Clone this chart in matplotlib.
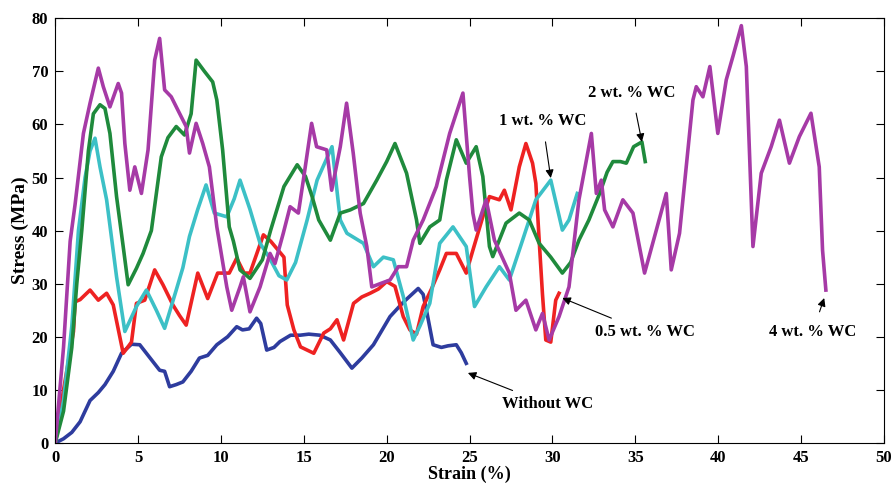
import matplotlib
matplotlib.use("Agg")
import matplotlib.pyplot as plt

plt.rcParams['font.family'] = ['Liberation Serif', 'DejaVu Serif']
plt.rcParams['font.weight'] = 'bold'

# Without WC
blue_x = [0, 0.5, 1, 1.5, 2.1, 2.6, 3, 3.5, 4, 4.6, 5.1, 5.6, 6.3, 6.6, 6.9, 7.3, 7.7, 8.2, 8.7, 9.2,
          9.75, 10.4, 10.95, 11.3, 11.7, 12.15, 12.4, 12.76, 13.2, 13.56, 14.2, 14.77, 15.3, 15.97, 16.6,
          17.2, 17.9, 18.5, 19.2, 20.2, 21, 21.9, 22.2, 22.4, 22.8, 23.3, 23.7, 24.2, 24.5, 24.8]
blue_y = [0, 0.8, 2, 4, 8, 9.5, 11, 13.5, 16.9, 18.6, 18.5, 16.5, 13.7, 13.5, 10.6, 11, 11.5, 13.5, 16, 16.5,
          18.5, 20, 21.9, 21.3, 21.5, 23.5, 22.5, 17.5, 18, 19.1, 20.3, 20.3, 20.5, 20.3, 19.4,
          17, 14.1, 16, 18.5, 23.8, 26.5, 29.1, 28, 25, 18.5, 18, 18.3, 18.5, 17, 15]

# 0.5 wt. % WC
red_x = [0, 0.5, 1.1, 1.2, 1.5, 2.1, 2.6, 3.1, 3.5, 4.1, 4.6, 4.9, 5.4, 6.0, 6.5, 7.1, 7.5, 7.9, 8.6, 9.2,
         9.8, 10.5, 10.95, 11.4, 11.75, 12.2, 12.56, 13.0, 13.8, 14.0, 14.4, 14.8, 15.2, 15.6, 16.2, 16.6,
         17.0, 17.4, 18.0, 18.5, 19.0, 19.5, 20.0, 20.5, 21.0, 21.4, 21.8, 22.2, 22.7, 23.2, 23.6, 24.2,
         24.8, 25.2, 25.8, 26.2, 26.8, 27.1, 27.5, 28.0, 28.4, 28.8, 29.0, 29.2, 29.4, 29.6, 29.9, 30.2, 30.4]
red_y = [0, 10, 21, 26.6, 27, 28.8, 26.9, 28.2, 26, 16.9, 19, 26.3, 26.9, 32.6, 29.8, 26, 24, 22.2, 32, 27.2,
         32, 32, 34.8, 32, 32, 36, 39.2, 38, 35, 26, 21.3, 18.1, 17.5, 16.9, 20.7, 21.5,
         23.2, 19.4, 26.3, 27.5, 28.2, 29, 30.4, 29.5, 23.8, 21.3, 20.5, 25.7, 29, 32.6, 35.7, 35.7,
         32, 36.3, 42.6, 46.4, 45.8, 47.6, 43.9, 52, 56.4, 52.7, 48.9, 38.2, 28, 19.4, 19, 26.9, 28.2]

# 1 wt. % WC
cyan_x = [0, 0.5, 1, 1.4, 1.8, 2.1, 2.4, 2.7, 3.1, 3.7, 4.2, 4.9, 5.5, 6.1, 6.6, 7.3, 7.7, 8.1, 8.6, 9.1,
          9.6, 10.35, 10.8, 11.15, 11.75, 12.36, 12.9, 13.5, 13.97, 14.5, 15.2, 15.8, 16.7, 17.2, 17.6,
          18.6, 19.2, 19.8, 20.4, 21.0, 21.6, 22.0, 22.6, 23.2, 24.0, 24.8, 25.3, 26.0, 26.4, 26.8, 27.4,
          28.2, 29.0, 29.9, 30.6, 31.0, 31.5]
cyan_y = [0, 8, 22, 40, 50, 55, 57.4, 52, 45.8, 31.3, 21, 25.7, 28.8, 25, 21.6, 28.8, 33, 38.9, 44, 48.6,
          43.3, 42.6, 46, 49.5, 44, 37.6, 35, 31.5, 30.7, 34, 42, 49.5, 55.8, 42, 39.5,
          37.6, 33.2, 35, 34.5, 27.6, 19.4, 22, 26.3, 37.6, 40.7, 37, 25.7, 29.4, 31.3, 33.2, 30.7,
          38.2, 45.8, 49.5, 40.1, 42, 47]

# 2 wt. % WC
green_x = [0, 0.5, 1, 1.3, 1.6, 2.0, 2.3, 2.7, 3.0, 3.3, 3.7, 4.1, 4.4, 4.9, 5.3, 5.8, 6.4, 6.8, 7.3, 7.8,
           8.2, 8.5, 9.0, 9.5, 9.75, 10.1, 10.5, 10.75, 11.15, 11.75, 12.5, 13.0, 13.8, 14.6, 15.1, 15.5,
           15.9, 16.6, 17.2, 17.8, 18.6, 19.4, 20.0, 20.5, 21.2, 21.8, 22.0, 22.6, 23.2, 23.6, 24.2, 24.8,
           25.4, 25.8, 26.2, 26.4, 27.2, 28.0, 28.6, 29.2, 29.9, 30.6, 31.1, 31.6, 32.2, 32.85, 33.3,
           33.65, 34.1, 34.46, 34.9, 35.4, 35.6]
green_y = [0, 6, 18, 30, 40, 55, 62, 63.7, 63, 58.3, 46.4, 37, 29.8, 32.9, 35.7, 40, 53.9, 57.5, 59.6, 58,
           62, 72.1, 70, 68, 64.6, 55.2, 40.7, 38, 32.6, 31, 34.5, 40.1, 48.3, 52.4, 50.2, 46.4,
           42, 38.2, 43.3, 43.9, 45.1, 49.5, 53, 56.4, 50.8, 42, 37.6, 40.7, 42, 49.5, 57.1, 52.7,
           55.8, 50.2, 37, 35.1, 41.4, 43.3, 42, 37.6, 35, 32, 34, 38.2, 42, 47, 51,
           53, 53, 52.7, 55.8, 56.7, 53]

# 4 wt. % WC
mag_x = [0, 0.5, 0.9, 1.2, 1.7, 2.1, 2.6, 2.9, 3.3, 3.8, 4.0, 4.2, 4.5, 4.8, 5.2, 5.6, 6.0, 6.3, 6.6, 7.0,
         7.4, 7.9, 8.1, 8.5, 8.9, 9.3, 9.75, 10.35, 10.65, 11.15, 11.35, 11.75, 12.36, 12.96, 13.26, 13.76,
         14.17, 14.67, 14.97, 15.47, 15.77, 16.38, 16.68, 17.2, 17.58, 17.98, 18.4, 18.8, 19.1, 19.6, 20.2,
         20.7, 21.2, 21.6, 22.2, 23.0, 23.8, 24.6, 25.0, 25.2, 25.4, 26.0, 26.5, 27.4, 27.8, 28.4, 29.0,
         29.4, 29.8, 30.4, 31.0, 31.6, 32.35, 32.65, 32.95, 33.15, 33.65, 34.25, 34.86, 35.56, 36.27,
         36.87, 37.17, 37.67, 38.48, 38.68, 39.08, 39.5, 39.98, 40.49, 40.9, 41.4, 41.7, 42.1, 42.6,
         43.2, 43.7, 44.3, 44.9, 45.6, 46.1, 46.3, 46.5]
mag_y = [0, 18, 38, 45, 58.3, 64, 70.6, 67.1, 63.3, 67.7, 65.9, 56.4, 47.6, 52, 47, 55.2, 72.1, 76.2, 66.5, 65.2,
         62.7, 59.6, 54.6, 60.2, 56.4, 52, 40.7, 29.4, 25, 29.4, 31.3, 24.7, 29.4, 35.7, 33.8, 39.5,
         44.5, 43.3, 49.5, 60.2, 55.8, 55.2, 47.6, 55.8, 64, 54.6, 43.3, 37, 29.4, 30, 30.7,
         33.2, 33.2, 38.2, 42, 48.3, 58.3, 65.9, 50.2, 43.3, 40.1, 45.8, 38.2, 32, 25, 26.9, 21.3,
         24.4, 19.4, 23.8, 29.4, 45.8, 58.3, 47, 49.5, 43.9, 40.7, 45.8, 43.3, 32, 40.1,
         47, 32.6, 39.5, 64.6, 67.1, 65.2, 70.9, 58.3, 68.4, 72.9, 78.6, 70.9, 37, 50.8,
         55.8, 60.8, 52.7, 57.7, 62.1, 52, 36.3, 28.8]

labels = ['Without WC', '0.5 wt. % WC', '1 wt. % WC', '2 wt. % WC', '4 wt. % WC']
# label text position, arrow tip
label_xy = [(29.7, 7.3), (35.6, 20.9), (29.4, 60.6), (34.8, 66.0), (45.7, 20.9)]
tip_xy = [(24.9, 13.2), (30.6, 27.3), (29.9, 49.9), (35.4, 56.7), (46.4, 27.3)]

fig = plt.figure(figsize=(8.91, 4.92), dpi=100)
ax = fig.add_axes([0.062, 0.0996, 0.93, 0.8634])

lw = 2.6
ax.plot(blue_x, blue_y, color='#2e3c9e', lw=lw)
ax.plot(red_x, red_y, color='#ee2222', lw=lw)
ax.plot(cyan_x, cyan_y, color='#3cc0c6', lw=lw)
ax.plot(green_x, green_y, color='#1f8a3c', lw=lw)
ax.plot(mag_x, mag_y, color='#a63aa6', lw=lw)

for lab, (tx, ty), (px, py) in zip(labels, label_xy, tip_xy):
    ax.annotate(lab, xy=(px, py), xytext=(tx, ty), ha='center', va='center',
                fontsize=12, fontweight='bold',
                arrowprops=dict(arrowstyle='-|>', color='black', lw=0.8,
                                shrinkA=8, shrinkB=0, mutation_scale=12),
                bbox=dict(boxstyle='square,pad=0.1', fc='white', ec='none'))

ax.set_xlim(0, 50)
ax.set_ylim(0, 80)
ax.set_xticks(range(0, 51, 5))
ax.set_yticks(range(0, 81, 10))
ax.tick_params(direction='in', top=True, right=True, labelsize=12, length=6, pad=5)
for t in ax.get_xticklabels() + ax.get_yticklabels():
    t.set_fontweight('bold')
ax.set_xlabel('Strain (%)', fontsize=13, fontweight='bold', labelpad=0)
ax.set_ylabel('Stress (MPa)', fontsize=14, fontweight='bold', labelpad=2)

fig.savefig('out.png', dpi=100)
